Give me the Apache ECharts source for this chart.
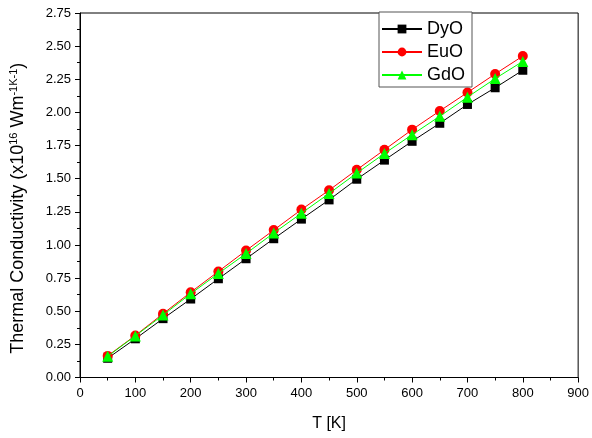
<!DOCTYPE html>
<html><head><meta charset="utf-8">
<script src="https://cdn.jsdelivr.net/npm/echarts@6/dist/echarts.min.js"></script>
<style>html,body{margin:0;padding:0;background:#fff}#c{width:592px;height:438px}</style>
</head><body><div id="c"></div>
<script>
const temps = [50,100,150,200,250,300,350,400,450,500,550,600,650,700,750,800];
const dyo = [0.145,0.292,0.444,0.592,0.745,0.896,1.047,1.195,1.340,1.496,1.640,1.782,1.918,2.060,2.186,2.318];
const euo = [0.163,0.317,0.481,0.643,0.800,0.958,1.112,1.267,1.413,1.567,1.718,1.870,2.011,2.150,2.290,2.425];
const gdo = [0.160,0.314,0.471,0.632,0.785,0.935,1.090,1.239,1.388,1.542,1.690,1.832,1.971,2.115,2.255,2.385];
const seriesNames = ['DyO','EuO','GdO'];
const xTitle = 'T [K]';

const font = 'Liberation Sans, Arial, sans-serif';
const pair = (arr) => temps.map((t,i)=>[t,arr[i]]);
const chart = echarts.init(document.getElementById('c'), null, {renderer:'canvas'});
const axisCommon = {
  axisLine:{show:true,onZero:false,lineStyle:{color:'#000',width:1}},
  axisTick:{show:true,inside:false,length:5,lineStyle:{color:'#000',width:1}},
  minorTick:{show:true,splitNumber:2,length:3,lineStyle:{color:'#000',width:1}},
  splitLine:{show:false},
  axisLabel:{color:'#000',fontFamily:font,fontSize:13,margin:9}
};
chart.setOption({
  animation:false,
  backgroundColor:'#fff',
  grid:{left:80,right:12,top:13,bottom:60.5,show:true,borderColor:'#000',borderWidth:1,backgroundColor:'transparent'},
  legend:{
    data:seriesNames, orient:'vertical', left:379, top:12,
    itemWidth:40, itemHeight:11, itemGap:5,
    padding:[8,7,3,2],
    borderColor:'#555', borderWidth:1, backgroundColor:'#fff',
    textStyle:{color:'#000',fontFamily:font,fontSize:18}
  },
  xAxis:Object.assign({}, axisCommon, {
    type:'value', min:0, max:900, interval:100,
    name:xTitle, nameLocation:'middle', nameGap:38,
    nameTextStyle:{color:'#000',fontFamily:font,fontSize:16}
  }),
  yAxis:Object.assign({}, axisCommon, {
    type:'value', min:0, max:2.75, interval:0.25,
    axisLabel:Object.assign({}, axisCommon.axisLabel, {formatter:(v)=>v.toFixed(2)}),
    name:'{n|Thermal Conductivity (x10}{s|16}{n| Wm}{s|-1K-1}{n|)}',
    nameLocation:'middle', nameGap:52, nameRotate:90,
    nameTextStyle:{color:'#000',fontFamily:font,fontSize:18,padding:[0,26,0,0],
      rich:{n:{fontFamily:font,fontSize:18,color:'#000'},
            s:{fontFamily:font,fontSize:11,color:'#000',verticalAlign:'top',padding:[0,0,9,0]}}}
  }),
  series:[
    {name:'DyO',type:'line',data:pair(dyo),symbol:'rect',symbolSize:9,
      lineStyle:{color:'#000',width:1},itemStyle:{color:'#000'},z:2},
    {name:'EuO',type:'line',data:pair(euo),symbol:'circle',symbolSize:10,
      lineStyle:{color:'#ff0000',width:1},itemStyle:{color:'#ff0000'},z:3},
    {name:'GdO',type:'line',data:pair(gdo),symbol:'triangle',symbolSize:11,
      lineStyle:{color:'#00ff00',width:1},itemStyle:{color:'#00ff00'},z:4}
  ]
});
</script></body></html>
